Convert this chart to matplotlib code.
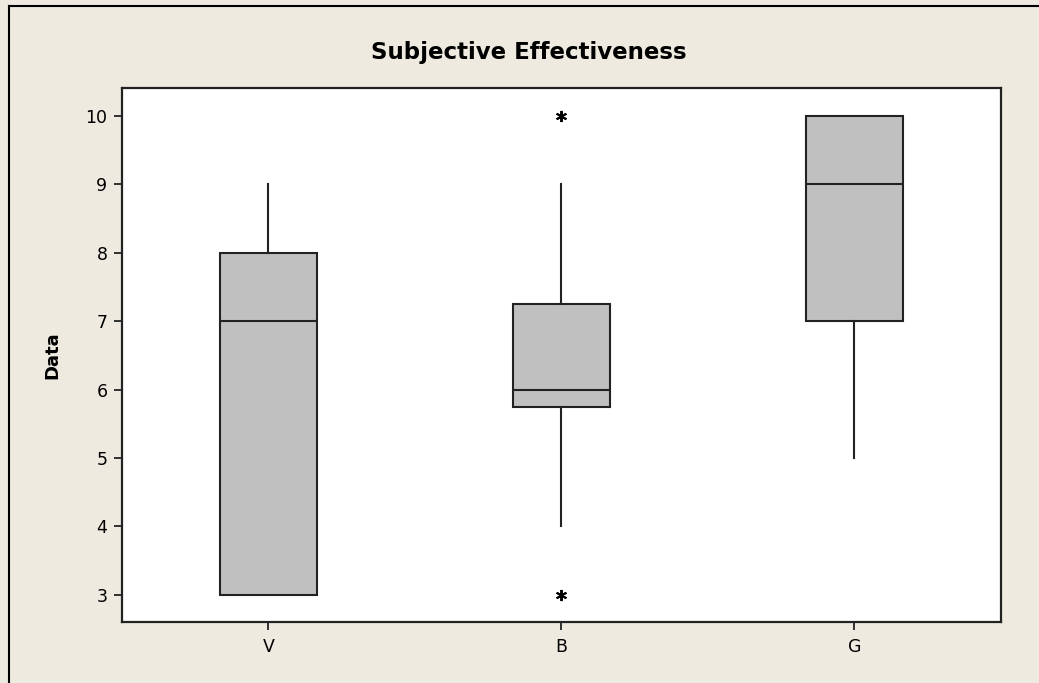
import matplotlib.pyplot as plt
from matplotlib.lines import Line2D

# box summary values
groups = ['V', 'B', 'G']
whisker_lo = [3, 4, 5]
q1 = [3, 5.75, 7]
median = [7, 6, 9]
q3 = [8, 7.25, 10]
whisker_hi = [9, 9, 10]
outliers = [[], [10, 3], []]

stats = []
for i, g in enumerate(groups):
    stats.append({'label': g, 'whislo': whisker_lo[i], 'q1': q1[i], 'med': median[i],
                  'q3': q3[i], 'whishi': whisker_hi[i], 'fliers': outliers[i]})

bg = '#EEEAE0'
fig = plt.figure(figsize=(10.39, 6.83), dpi=100, facecolor=bg)
ax = fig.add_axes([0.1174, 0.0893, 0.8460, 0.7819])
ax.set_facecolor('white')

ax.bxp(stats, positions=[1, 2, 3], widths=0.334, patch_artist=True, showcaps=False,
       boxprops=dict(facecolor='#C0C0C0', edgecolor='#222222', linewidth=1.5),
       medianprops=dict(color='#222222', linewidth=1.5),
       whiskerprops=dict(color='#222222', linewidth=1.5),
       flierprops=dict(marker=(6, 2, 0), markersize=8, markeredgecolor='black',
                       markeredgewidth=1.4, linestyle='none'))

ax.set_xlim(0.5, 3.5)
ax.set_ylim(2.6, 10.41)
ax.set_yticks(range(3, 11))
for s in ax.spines.values():
    s.set_linewidth(1.6)
    s.set_color('#222222')
ax.tick_params(axis='both', length=5.5, width=1.3, labelsize=12.5, color='#222222')
ax.tick_params(axis='y', pad=5)
ax.tick_params(axis='x', pad=6)
ax.set_ylabel('Data', fontsize=13, fontweight='bold', labelpad=17)

fig.text(529 / 1039, 1 - 53 / 683, 'Subjective Effectiveness', ha='center', va='center',
         fontsize=16.5, fontweight='bold')

# frame lines on the left and top of the figure
fig.add_artist(Line2D([9 / 1039, 9 / 1039], [0, 1 - 6 / 683], color='black', lw=1.5,
                      transform=fig.transFigure))
fig.add_artist(Line2D([9 / 1039, 1], [1 - 6 / 683, 1 - 6 / 683], color='black', lw=1.5,
                      transform=fig.transFigure))

fig.savefig('out.png', dpi=100, facecolor=bg)
